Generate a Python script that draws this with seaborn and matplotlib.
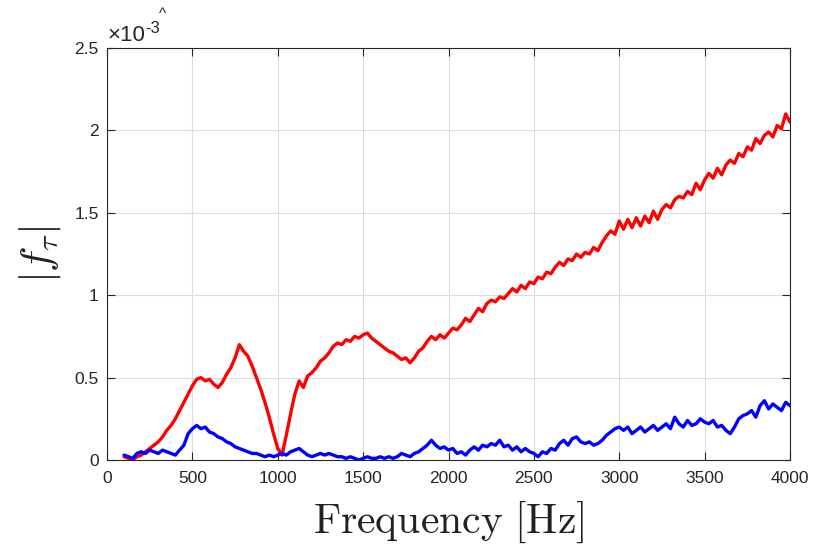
import numpy as np
import pandas as pd
import matplotlib
matplotlib.use("Agg")
import matplotlib.pyplot as plt
import seaborn as sns
from matplotlib.ticker import FuncFormatter, MultipleLocator

# ---- data (values in units of 1e-3) ----
freq_hz = list(range(100, 4001, 25))

red_vals = [
    0.02, 0.01, 0.00, 0.02, 0.03, 0.05, 0.07, 0.09, 0.11, 0.14,
    0.18, 0.21, 0.25, 0.30, 0.35, 0.40, 0.45, 0.49, 0.50, 0.48,
    0.49, 0.46, 0.44, 0.47, 0.52, 0.56, 0.62, 0.70, 0.66, 0.63,
    0.57, 0.50, 0.43, 0.35, 0.26, 0.16, 0.07, 0.03, 0.15, 0.28,
    0.40, 0.48, 0.44, 0.51, 0.53, 0.56, 0.60, 0.62, 0.65, 0.69,
    0.71, 0.70, 0.73, 0.72, 0.75, 0.74, 0.76, 0.77, 0.74, 0.72,
    0.70, 0.68, 0.66, 0.65, 0.63, 0.61, 0.62, 0.59, 0.62, 0.66,
    0.68, 0.72, 0.75, 0.73, 0.76, 0.74, 0.77, 0.80, 0.79, 0.82,
    0.86, 0.84, 0.88, 0.92, 0.90, 0.95, 0.97, 0.96, 0.99, 0.98,
    1.01, 1.04, 1.02, 1.06, 1.04, 1.08, 1.07, 1.11, 1.10, 1.14,
    1.13, 1.17, 1.20, 1.18, 1.22, 1.21, 1.25, 1.23, 1.26, 1.25,
    1.29, 1.27, 1.32, 1.36, 1.39, 1.37, 1.45, 1.40, 1.46, 1.41,
    1.47, 1.42, 1.48, 1.44, 1.51, 1.46, 1.52, 1.55, 1.53, 1.58,
    1.60, 1.59, 1.63, 1.61, 1.68, 1.64, 1.70, 1.74, 1.71, 1.77,
    1.73, 1.79, 1.82, 1.80, 1.86, 1.84, 1.90, 1.88, 1.95, 1.92,
    1.97, 1.99, 1.96, 2.03, 2.01, 2.10, 2.05,
]

blue_vals = [
    0.03, 0.02, 0.01, 0.04, 0.05, 0.04, 0.06, 0.05, 0.04, 0.06,
    0.05, 0.04, 0.03, 0.06, 0.09, 0.16, 0.19, 0.21, 0.19, 0.20,
    0.17, 0.16, 0.14, 0.13, 0.11, 0.10, 0.08, 0.07, 0.06, 0.05,
    0.04, 0.04, 0.03, 0.02, 0.03, 0.02, 0.03, 0.04, 0.03, 0.05,
    0.06, 0.07, 0.05, 0.03, 0.02, 0.03, 0.04, 0.03, 0.04, 0.03,
    0.02, 0.02, 0.01, 0.02, 0.01, 0.00, 0.01, 0.02, 0.01, 0.01,
    0.02, 0.01, 0.02, 0.01, 0.02, 0.04, 0.03, 0.02, 0.04, 0.05,
    0.07, 0.09, 0.12, 0.09, 0.07, 0.08, 0.06, 0.07, 0.04, 0.05,
    0.03, 0.06, 0.08, 0.06, 0.09, 0.08, 0.10, 0.09, 0.12, 0.08,
    0.09, 0.06, 0.08, 0.05, 0.07, 0.05, 0.04, 0.02, 0.05, 0.04,
    0.07, 0.06, 0.10, 0.12, 0.09, 0.13, 0.14, 0.11, 0.10, 0.11,
    0.09, 0.10, 0.12, 0.15, 0.17, 0.19, 0.20, 0.18, 0.20, 0.16,
    0.18, 0.20, 0.17, 0.19, 0.21, 0.18, 0.20, 0.22, 0.19, 0.26,
    0.22, 0.20, 0.24, 0.21, 0.22, 0.25, 0.23, 0.22, 0.24, 0.20,
    0.21, 0.18, 0.16, 0.20, 0.25, 0.27, 0.28, 0.30, 0.26, 0.33,
    0.36, 0.31, 0.34, 0.32, 0.30, 0.35, 0.33,
]

x_ticks = [0, 500, 1000, 1500, 2000, 2500, 3000, 3500, 4000]
y_ticks = [0, 0.5, 1, 1.5, 2, 2.5]

df_red = pd.DataFrame({"f": freq_hz, "v": red_vals})
df_blue = pd.DataFrame({"f": freq_hz, "v": blue_vals})

sns.set_style("white")
plt.rcParams["font.family"] = ["Liberation Sans", "DejaVu Sans"]
plt.rcParams["mathtext.fontset"] = "cm"

fig = plt.figure(figsize=(8.24, 5.5), dpi=100)
ax = fig.add_axes([0.1299, 0.1636, 0.8288, 0.7491])

sns.lineplot(data=df_red, x="f", y="v", ax=ax, color=(1, 0, 0), linewidth=2.4)
sns.lineplot(data=df_blue, x="f", y="v", ax=ax, color=(0, 0, 1), linewidth=2.4)

ax.set_xlim(0, 4000)
ax.set_ylim(0, 2.5)
ax.set_xticks(x_ticks)
ax.set_yticks(y_ticks)
ax.yaxis.set_major_formatter(FuncFormatter(lambda v, p: "%g" % v))
ax.grid(True, color="#dcdcdc", linewidth=0.8)
ax.set_axisbelow(True)

edge = "#262626"
for s in ax.spines.values():
    s.set_visible(True)
    s.set_color(edge)
    s.set_linewidth(0.8)
ax.tick_params(direction="in", length=6, width=0.8, color=edge,
               labelcolor=edge, labelsize=12.5, top=True, right=True,
               bottom=True, left=True)
ax.tick_params(axis="x", pad=8)
ax.tick_params(axis="y", pad=6)

ax.set_xlabel(r"$\mathrm{Frequency\ [Hz]}$", fontsize=30, color="#222222",
              labelpad=10)
ax.set_ylabel(r"$|f_\tau|$", fontsize=31, color="#222222", labelpad=8)

# exponent label (MATLAB style, sans-serif)
ax.text(0.0, 1.006, "\u00d710", transform=ax.transAxes,
        fontsize=16, color=edge, ha="left", va="bottom")
ax.text(0.056, 1.03, "-3", transform=ax.transAxes,
        fontsize=12, color=edge, ha="left", va="bottom")
fig.text(0.197, 0.975, "^", fontsize=11, color=edge,
         ha="center", va="center")

fig.savefig("out.png", dpi=100)
